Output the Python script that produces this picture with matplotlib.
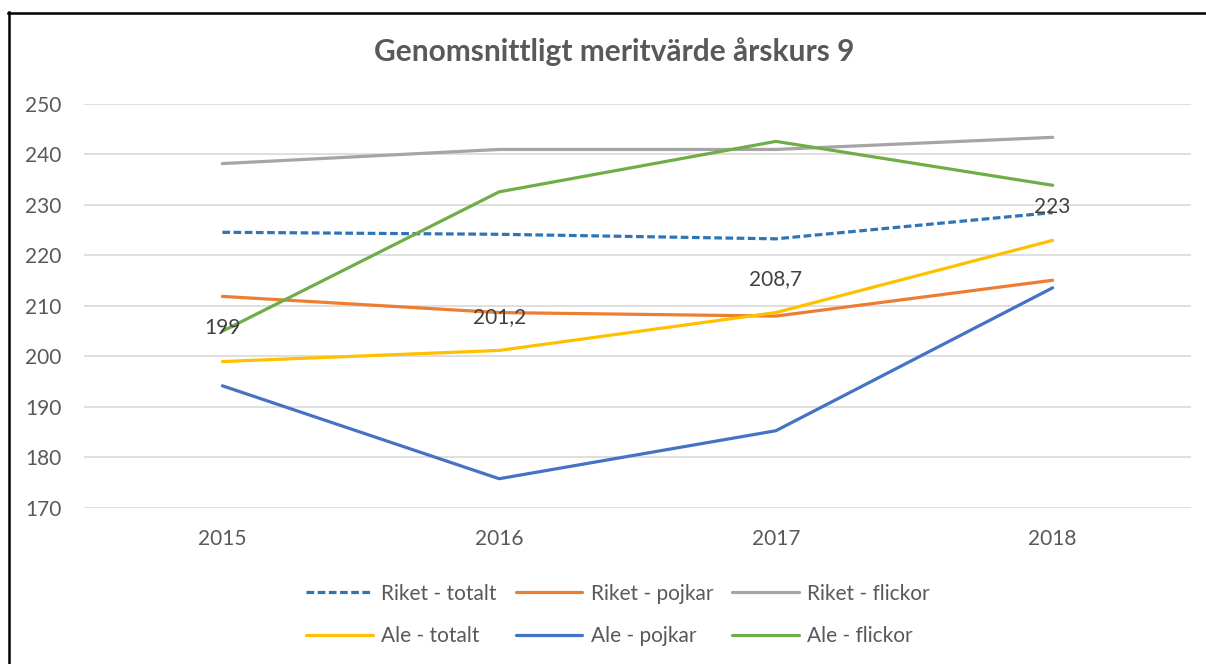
import numpy as np
import matplotlib
matplotlib.use('Agg')
import matplotlib.pyplot as plt
from matplotlib.lines import Line2D

plt.rcParams['font.family'] = ['Lato', 'DejaVu Sans']

years = ['2015', '2016', '2017', '2018']

riket_totalt = [224.6, 224.2, 223.3, 228.5]
riket_pojkar = [211.9, 208.7, 208.0, 215.1]
riket_flickor = [238.2, 241.0, 241.0, 243.4]
ale_totalt = [199, 201.2, 208.7, 223]
ale_pojkar = [194.2, 175.8, 185.3, 213.6]
ale_flickor = [205.0, 232.6, 242.6, 233.9]

ale_totalt_labels = ['199', '201,2', '208,7', '223']

series = [
    ('Riket - totalt', riket_totalt, '#2E75B6', (0, (2.4, 1.1))),
    ('Riket - pojkar', riket_pojkar, '#ED7D31', '-'),
    ('Riket - flickor', riket_flickor, '#A5A5A5', '-'),
    ('Ale - totalt', ale_totalt, '#FFC000', '-'),
    ('Ale - pojkar', ale_pojkar, '#4472C4', '-'),
    ('Ale - flickor', ale_flickor, '#70AD47', '-'),
]

text_col = '#595959'

fig = plt.figure(figsize=(12.06, 6.64), dpi=100)
ax = fig.add_axes([84 / 1206, 1 - 508 / 664, (1191 - 84) / 1206, (508 - 104) / 664])

x = np.arange(len(years))
lines = {}
for name, vals, col, ls in series:
    ln, = ax.plot(x, vals, color=col, lw=2.3, linestyle=ls, label=name,
                  solid_capstyle='round', dash_capstyle='butt')
    lines[name] = ln

for xi, v, lab in zip(x, ale_totalt, ale_totalt_labels):
    ax.annotate(lab, (xi, v), xytext=(0, 24), textcoords='offset points',
                ha='center', va='center', fontsize=15, color='#404040')

ax.set_xlim(-0.5, 3.5)
ax.set_ylim(170, 250)
ax.set_yticks(np.arange(170, 251, 10))
ax.set_xticks(x)
ax.set_xticklabels(years)
ax.grid(axis='y', color='#D9D9D9', lw=1.2)
ax.set_axisbelow(True)
for s in ax.spines.values():
    s.set_visible(False)
ax.tick_params(length=0, labelsize=15, labelcolor=text_col)
ax.tick_params(axis='y', pad=16)
ax.tick_params(axis='x', pad=15)

fig.text(614 / 1206, 1 - 52 / 664, 'Genomsnittligt meritvärde årskurs 9',
         ha='center', va='center', fontsize=21.5, fontweight='bold', color=text_col)

order = ['Riket - totalt', 'Ale - totalt', 'Riket - pojkar', 'Ale - pojkar',
         'Riket - flickor', 'Ale - flickor']
leg = fig.legend([lines[n] for n in order], order, ncol=3, loc='center',
                 bbox_to_anchor=(618 / 1206, 1 - 615 / 664), frameon=False,
                 fontsize=15, handlelength=3.2, handletextpad=0.4,
                 columnspacing=0.9, labelspacing=1.1)
for t in leg.get_texts():
    t.set_color(text_col)

# outer border (top and left visible in the screenshot)
fig.add_artist(Line2D([8 / 1206, 1], [1 - 12.5 / 664, 1 - 12.5 / 664], color='black', lw=1.8))
fig.add_artist(Line2D([8.5 / 1206, 8.5 / 1206], [0, 1 - 12 / 664], color='black', lw=1.8))

fig.savefig('out.png', dpi=100)
